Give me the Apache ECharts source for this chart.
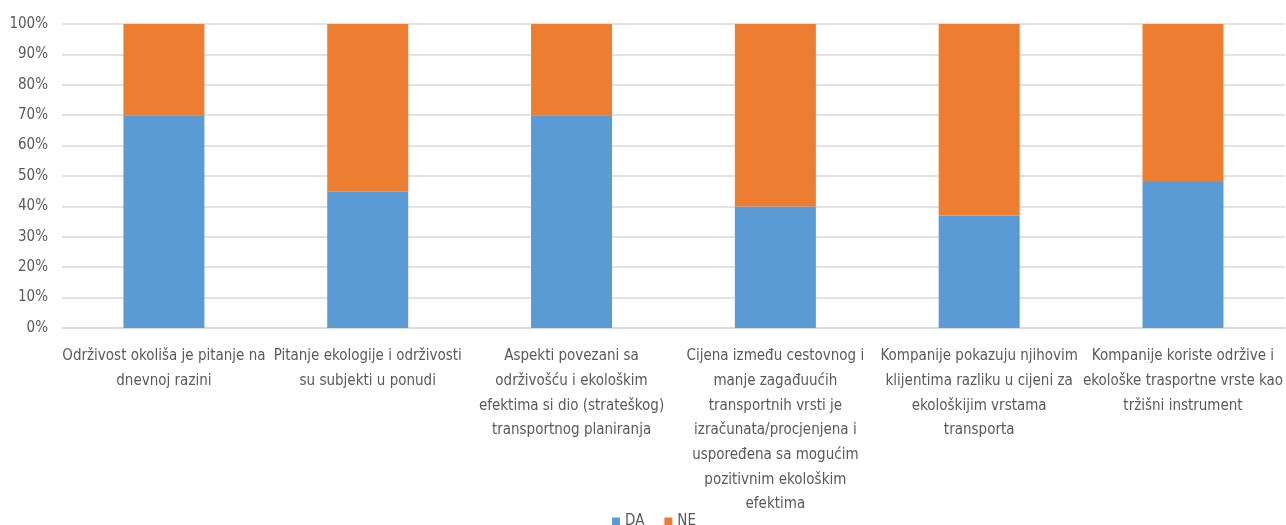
<!DOCTYPE html>
<html>
<head>
<meta charset="utf-8">
<script src="https://cdn.jsdelivr.net/npm/echarts@6/dist/echarts.min.js"></script>
<style>
  html, body { margin: 0; padding: 0; background: #fff; }
  #chart { width: 1286px; height: 525px; }
</style>
</head>
<body>
<div id="chart"></div>
<script>
const categories = [
  "Održivost okoliša je pitanje na\ndnevnoj razini",
  "Pitanje ekologije i održivosti\nsu subjekti u ponudi",
  "Aspekti povezani sa\nodrživošću i ekološkim\nefektima si dio (strateškog)\ntransportnog planiranja",
  "Cijena između cestovnog i\nmanje zagađuućih\ntransportnih vrsti je\nizračunata/procjenjena i\nuspoređena sa mogućim\npozitivnim ekološkim\nefektima",
  "Kompanije pokazuju njihovim\nklijentima razliku u cijeni za\nekološkijim vrstama\ntransporta",
  "Kompanije koriste održive i\nekološke trasportne vrste kao\ntržišni instrument"
]
const daValues = [70, 45, 70, 40, 37, 48]
const neValues = [30, 55, 30, 60, 63, 52]

const font = "'Liberation Sans Narrow', 'DejaVu Sans Condensed', sans-serif"

const chart = echarts.init(document.getElementById("chart"))

chart.setOption({
  animation: false,
  grid: {
    top: 24,
    bottom: 197,
    left: 62,
    right: 0
  },
  legend: {
    top: 509,
    left: 607,
    itemWidth: 8,
    itemHeight: 8,
    itemGap: 20,
    icon: "rect",
    textStyle: { color: "#595959", fontSize: 15, fontFamily: font },
    data: ["DA", "NE"]
  },
  xAxis: {
    type: "category",
    data: categories,
    axisTick: { show: false },
    axisLine: { lineStyle: { color: "#d9d9d9", width: 1.5 } },
    axisLabel: {
      interval: 0,
      margin: 16,
      color: "#595959",
      fontSize: 15,
      lineHeight: 24.7,
      fontFamily: font
    }
  },
  yAxis: {
    type: "value",
    min: 0,
    max: 100,
    interval: 10,
    axisLine: { show: false },
    axisTick: { show: false },
    splitLine: { lineStyle: { color: "#d9d9d9", width: 1.5 } },
    axisLabel: {
      margin: 14,
      color: "#595959",
      fontSize: 15,
      fontFamily: font,
      formatter: "{value}%"
    }
  },
  series: [
    {
      name: "DA",
      type: "bar",
      stack: "total",
      barWidth: 81,
      itemStyle: { color: "#5b9bd5" },
      data: daValues
    },
    {
      name: "NE",
      type: "bar",
      stack: "total",
      barWidth: 81,
      itemStyle: { color: "#ed7d31" },
      data: neValues
    }
  ]
})
</script>
</body>
</html>
